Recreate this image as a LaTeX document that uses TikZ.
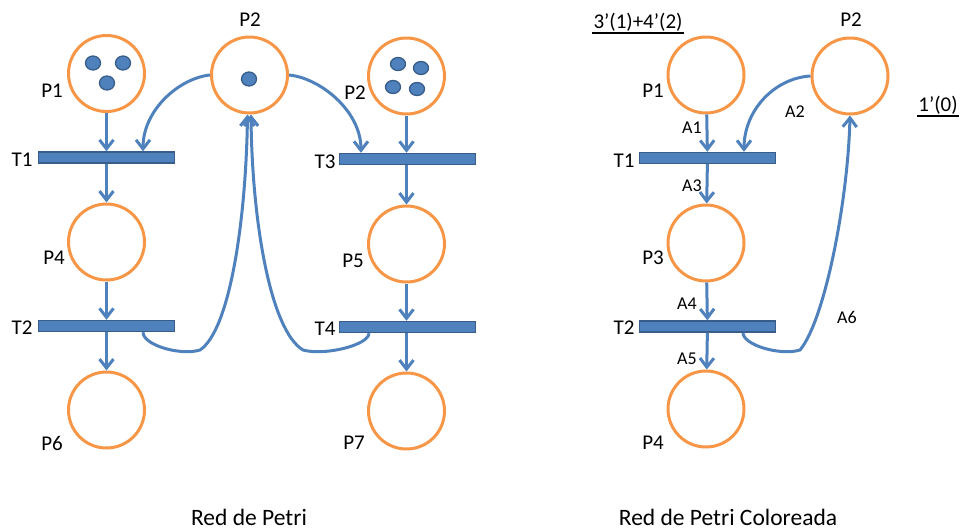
\documentclass[tikz,border=0pt]{standalone}
\usepackage{fontspec}
\setmainfont{Carlito}
\usetikzlibrary{arrows.meta,calc}
\definecolor{plorange}{HTML}{F79646}
\definecolor{plblue}{HTML}{4F81BD}
\definecolor{pldark}{HTML}{385D8A}
\tikzset{
  place/.style={circle,draw=plorange,line width=3pt,inner sep=0pt,minimum size=76pt},
  trans/.style={rectangle,draw=pldark,fill=plblue,line width=1.4pt,inner sep=0pt,minimum width=136pt,minimum height=11pt},
  arc/.style={draw=plblue,line width=3pt,-{Straight Barb[length=9pt,width=14pt,line width=3pt]}},
  tok/.style={fill=plblue,draw=pldark,line width=1.3pt},
  lbl/.style={font=\fontsize{21}{25}\selectfont,inner sep=0pt},
  captiontext/.style={font=\fontsize{23.5}{28}\selectfont,inner sep=0pt},
  albl/.style={font=\fontsize{18}{21}\selectfont,inner sep=0pt},
  uline/.style={draw=black,line width=2.2pt},
}
\begin{document}
\begin{tikzpicture}[x=1pt,y=-1pt]
\useasboundingbox (0,0) rectangle (961,531);
% ---------- left net ----------
\node[place] (LP1) at (106.5,73.5) {};
\node[place] (LP2) at (249.5,75) {};
\node[place] (LP3) at (406.5,76) {};
\node[trans] (LT1) at (106.5,157.5) {};
\node[trans] (LT3) at (407.5,159) {};
\node[place] (LP4) at (106.5,242) {};
\node[place] (LP5) at (406.5,244) {};
\node[trans] (LT2) at (106.5,326) {};
\node[trans] (LT4) at (407.5,327) {};
\node[place] (LP6) at (106.5,410) {};
\node[place] (LP7) at (406.5,411) {};
% tokens
\draw[tok] (93,63) ellipse (7.5 and 7);
\draw[tok] (123,63) ellipse (7.5 and 7);
\draw[tok] (107,83) ellipse (7.5 and 7);
\draw[tok] (249,79) ellipse (7.5 and 7);
\draw[tok] (398,64) ellipse (7.5 and 6.5);
\draw[tok] (421,68) ellipse (7.5 and 6.5);
\draw[tok] (393,87) ellipse (7.5 and 6.5);
\draw[tok] (417,89) ellipse (7.5 and 6.5);
% labels
\node[lbl] (lP1) at (52,91) {P1};
\node[lbl] (lP2) at (250,20) {P2};
\node[lbl] (lP3) at (355,93) {P2};
\node[lbl] (lT1) at (22,160) {T1};
\node[lbl] (lT3) at (325,162) {T3};
\node[lbl] (lP4) at (54,258) {P4};
\node[lbl] (lP5) at (353,261) {P5};
\node[lbl] (lT2) at (22,328) {T2};
\node[lbl] (lT4) at (325,329) {T4};
\node[lbl] (lP6) at (52,443) {P6};
\node[lbl] (lP7) at (354,443) {P7};
% arcs
\draw[arc] (LP1) -- (LT1);
\draw[arc] (LT1) -- (LP4);
\draw[arc] (LP4) -- (LT2);
\draw[arc] (LT2) -- (LP6);
\draw[arc] (LP3.south) -- ($(LT3.north)+(-1,0)$);
\draw[arc] ($(LT3.south)+(-1,0)$) -- (LP5.north);
\draw[arc] (LP5.south) -- ($(LT4.north)+(-1,0)$);
\draw[arc] ($(LT4.south)+(-1,0)$) -- (LP7.north);
\draw[arc] (LP2.west) .. controls (180,78) and ($(LT1.north)+(36.5,-42)$) .. ($(LT1.north)+(36.5,0)$);
\draw[arc] (LP2.east) .. controls (320,78) and ($(LT3.north)+(-46.5,-42)$) .. ($(LT3.north)+(-46.5,0)$);
\draw[arc] ($(LT2.south)+(36.5,0)$) .. controls (143,345) and (180,356) .. (200,350)
   .. controls (230,330) and (246,220) .. ($(LP2.south)+(-2,0)$);
\draw[arc] ($(LT4.south)+(-38.5,0)$) .. controls (369,345) and (325,356) .. (303,350)
   .. controls (270,330) and (252,220) .. ($(LP2.south)+(1.5,0)$);
% ---------- right net ----------
\node[place] (RP1) at (706,75) {};
\node[place] (RP2) at (850,76) {};
\node[trans] (RT1) at (707.5,158) {};
\node[place] (RP3) at (706,243) {};
\node[trans] (RT2) at (707.5,326.5) {};
\node[place] (RP4) at (706,409) {};
\node[lbl] (rM1) at (638,22) {3’(1)+4’(2)};
\draw[uline] ($(rM1.south west)+(-1,1.5)$) -- ($(rM1.south east)+(1,1.5)$);
\node[lbl] (rM2) at (938,105) {1’(0)};
\draw[uline] ($(rM2.south west)+(-1,1.5)$) -- ($(rM2.south east)+(1,1.5)$);
\node[lbl] (rP2) at (851,20) {P2};
\node[lbl] (rP1) at (653,91) {P1};
\node[lbl] (rT1) at (624,161) {T1};
\node[lbl] (rP3) at (653,258) {P3};
\node[lbl] (rT2) at (624,328) {T2};
\node[lbl] (rP4) at (653,443) {P4};
\node[albl] (A1) at (692,128) {A1};
\node[albl] (A2) at (795,112) {A2};
\node[albl] (A3) at (692,186) {A3};
\node[albl] (A4) at (687,304) {A4};
\node[albl] (A5) at (687,359) {A5};
\node[albl] (A6) at (847,317) {A6};
\draw[arc] (RP1) -- (RT1);
\draw[arc] (RT1) -- (RP3);
\draw[arc] (RP3) -- (RT2);
\draw[arc] (RT2) -- (RP4);
\draw[arc] (RP2.west) .. controls (775,78) and ($(RT1.north)+(36.5,-42)$) .. ($(RT1.north)+(36.5,0)$);
\draw[arc] ($(RT2.south)+(35.5,0)$) .. controls (743,345) and (780,356) .. (800,350)
   .. controls (825,320) and (848,200) .. (RP2.south);
% captions
\node[captiontext] (c1) at (249,517) {Red de Petri};
\node[captiontext] (c2) at (728,517) {Red de Petri Coloreada};
\end{tikzpicture}
\end{document}
